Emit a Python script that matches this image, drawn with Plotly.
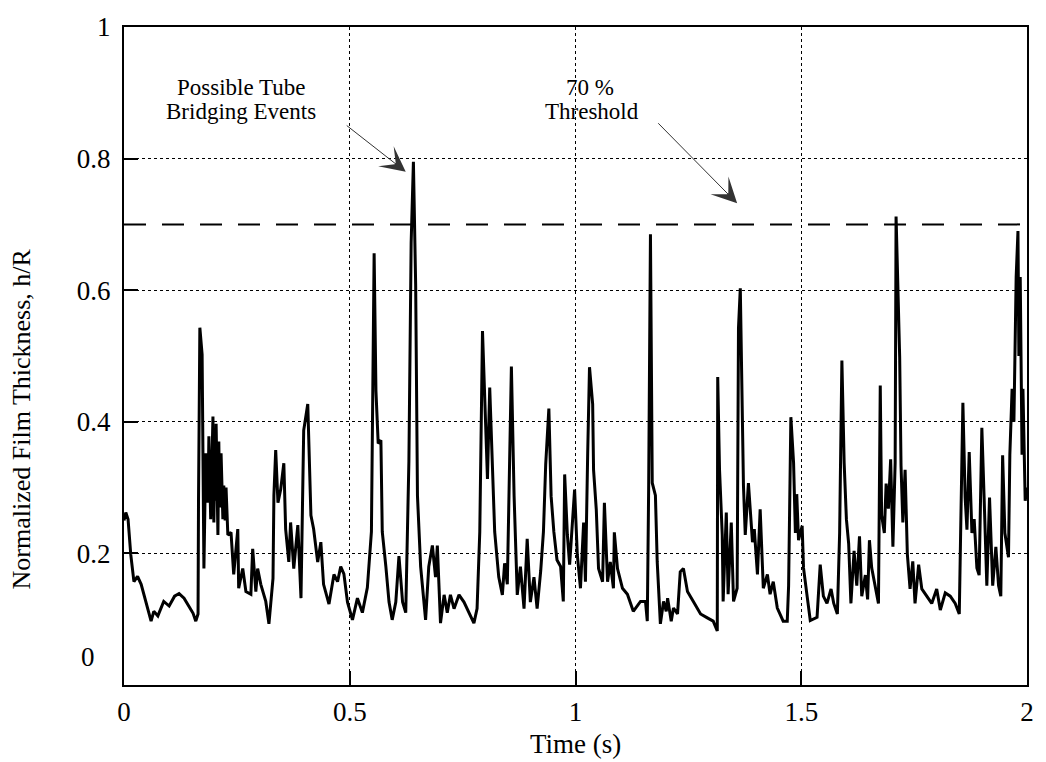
import plotly.graph_objects as go

# Time (s) and normalized film thickness h/R
t_vals = [
    0.000, 0.004, 0.009, 0.015, 0.022, 0.030, 0.038, 0.044, 0.060, 0.066, 0.075, 0.088, 0.100, 0.112,
    0.122, 0.133, 0.153, 0.159, 0.164, 0.165, 0.168, 0.173, 0.175, 0.177, 0.181, 0.186, 0.188, 0.192,
    0.197, 0.199, 0.201, 0.202, 0.204, 0.206, 0.208, 0.210, 0.212, 0.215, 0.217, 0.219, 0.221, 0.224,
    0.226, 0.230, 0.237, 0.243, 0.252, 0.254, 0.263, 0.270,
    0.281, 0.285, 0.292, 0.296, 0.303, 0.314, 0.321, 0.330, 0.332, 0.336, 0.341, 0.347, 0.354, 0.358,
    0.365, 0.369, 0.376, 0.385, 0.392, 0.398, 0.407, 0.414, 0.420, 0.429, 0.436, 0.442, 0.454, 0.465,
    0.473,
    0.480, 0.487, 0.495, 0.506, 0.517, 0.528, 0.539, 0.548, 0.554, 0.558, 0.563, 0.569, 0.572, 0.580,
    0.587, 0.594, 0.602, 0.609, 0.617, 0.624, 0.631, 0.636, 0.641, 0.646, 0.650, 0.657, 0.668, 0.675,
    0.683, 0.690, 0.694, 0.701, 0.709, 0.716, 0.723, 0.731, 0.742, 0.753, 0.764, 0.775, 0.782, 0.788,
    0.794, 0.799, 0.805, 0.810, 0.816, 0.821, 0.830, 0.838, 0.843, 0.849, 0.858, 0.864, 0.871, 0.878,
    0.886, 0.893, 0.900, 0.908, 0.915, 0.923, 0.929, 0.934, 0.941, 0.946, 0.952, 0.959, 0.967,
    0.973, 0.976, 0.982, 0.987, 0.993, 0.998, 1.004, 1.011, 1.018, 1.022, 1.027, 1.031, 1.038, 1.040,
    1.046, 1.051, 1.060, 1.064, 1.071, 1.077, 1.084, 1.086, 1.093, 1.104, 1.115, 1.128, 1.144, 1.155,
    1.159, 1.162, 1.166, 1.170, 1.177, 1.181, 1.188, 1.195, 1.201, 1.204, 1.212, 1.217, 1.226, 1.232,
    1.239, 1.248, 1.261, 1.277, 1.292, 1.305, 1.314, 1.315, 1.319, 1.325, 1.327, 1.334, 1.338, 1.345,
    1.350, 1.358, 1.361, 1.365, 1.372, 1.376, 1.383, 1.392, 1.396, 1.403, 1.409, 1.416, 1.425, 1.431,
    1.438, 1.447, 1.460, 1.469,
    1.472, 1.477, 1.483, 1.487, 1.490, 1.494, 1.502, 1.505, 1.513, 1.520, 1.535, 1.542, 1.549, 1.557,
    1.566, 1.572, 1.580, 1.585, 1.590, 1.595, 1.600, 1.605, 1.610, 1.617, 1.623, 1.629, 1.634, 1.642,
    1.647, 1.651, 1.656, 1.664, 1.671, 1.675, 1.678, 1.684, 1.688, 1.693, 1.698, 1.703, 1.708, 1.710,
    1.713, 1.718, 1.721, 1.725, 1.730, 1.735, 1.741, 1.747, 1.752, 1.760, 1.767, 1.778, 1.789, 1.800,
    1.808, 1.819, 1.830, 1.841, 1.850, 1.853, 1.858, 1.863, 1.867, 1.872, 1.878, 1.883, 1.889, 1.894,
    1.900, 1.905, 1.911, 1.917, 1.924, 1.931, 1.937, 1.942, 1.946, 1.951, 1.959,
    1.962, 1.967, 1.971, 1.976, 1.980, 1.982, 1.985, 1.989, 1.991, 1.996, 2.000,
]
h_vals = [
    0.250, 0.262, 0.252, 0.198, 0.157, 0.165, 0.153, 0.138, 0.097, 0.112, 0.105, 0.127, 0.120, 0.135,
    0.139, 0.132, 0.109, 0.097, 0.108, 0.277, 0.543, 0.502, 0.327, 0.177, 0.352, 0.277, 0.378, 0.252,
    0.408, 0.247, 0.340, 0.280, 0.397, 0.300, 0.228, 0.370, 0.270, 0.352, 0.280, 0.252, 0.303, 0.250,
    0.300, 0.228, 0.232, 0.168, 0.237, 0.147, 0.177, 0.142,
    0.138, 0.207, 0.142, 0.177, 0.153, 0.127, 0.093, 0.162, 0.288, 0.357, 0.277, 0.297, 0.337, 0.237,
    0.187, 0.247, 0.177, 0.243, 0.132, 0.387, 0.427, 0.258, 0.237, 0.187, 0.217, 0.153, 0.123, 0.168,
    0.157,
    0.180, 0.169, 0.126, 0.099, 0.132, 0.110, 0.148, 0.233, 0.656, 0.447, 0.367, 0.372, 0.233, 0.180,
    0.126, 0.099, 0.126, 0.196, 0.126, 0.110, 0.340, 0.672, 0.795, 0.607, 0.287, 0.180, 0.099, 0.180,
    0.212, 0.164, 0.212, 0.094, 0.137, 0.110, 0.137, 0.116, 0.137, 0.126, 0.110, 0.094, 0.116, 0.233,
    0.538, 0.420, 0.313, 0.452, 0.340, 0.233, 0.164, 0.137, 0.185, 0.153, 0.484, 0.287, 0.137, 0.180,
    0.116, 0.222, 0.126, 0.164, 0.116, 0.174, 0.233, 0.335, 0.420, 0.287, 0.233, 0.190, 0.180,
    0.127, 0.320, 0.228, 0.183, 0.237, 0.297, 0.198, 0.147, 0.247, 0.157, 0.352, 0.483, 0.427, 0.327,
    0.267, 0.177, 0.157, 0.277, 0.157, 0.187, 0.147, 0.232, 0.177, 0.147, 0.138, 0.112, 0.127, 0.127,
    0.097, 0.297, 0.685, 0.307, 0.288, 0.187, 0.093, 0.127, 0.112, 0.132, 0.097, 0.117, 0.108, 0.172,
    0.177, 0.142, 0.127, 0.108, 0.102, 0.097, 0.082, 0.468, 0.327, 0.228, 0.127, 0.262, 0.138, 0.247,
    0.127, 0.147, 0.543, 0.603, 0.303, 0.228, 0.307, 0.217, 0.237, 0.168, 0.267, 0.147, 0.168, 0.138,
    0.157, 0.117, 0.097, 0.097,
    0.151, 0.407, 0.338, 0.231, 0.290, 0.220, 0.242, 0.178, 0.135, 0.098, 0.103, 0.183, 0.135, 0.124,
    0.146, 0.124, 0.108, 0.231, 0.493, 0.338, 0.252, 0.215, 0.124, 0.204, 0.151, 0.226, 0.135, 0.167,
    0.130, 0.220, 0.178, 0.151, 0.124, 0.455, 0.258, 0.231, 0.306, 0.268, 0.343, 0.210, 0.338, 0.712,
    0.637, 0.498, 0.333, 0.247, 0.327, 0.199, 0.146, 0.188, 0.124, 0.183, 0.146, 0.135, 0.124, 0.146,
    0.114, 0.140, 0.135, 0.124, 0.108, 0.231, 0.429, 0.285, 0.236, 0.354, 0.231, 0.252, 0.178, 0.167,
    0.391, 0.285, 0.151, 0.285, 0.151, 0.210, 0.151, 0.135, 0.349, 0.231, 0.194,
    0.350, 0.450, 0.400, 0.620, 0.690, 0.500, 0.620, 0.350, 0.450, 0.280, 0.300,
]

threshold = 0.70
x_ticks = [0, 0.5, 1, 1.5, 2]
x_tick_text = ["0", "0.5", "1", "1.5", "2"]
y_ticks = [0, 0.2, 0.4, 0.6, 0.8, 1]
y_tick_text = ["", "0.2", "0.4", "0.6", "0.8", "1"]

FONT = "Liberation Serif, Times New Roman, serif"

fig = go.Figure()
fig.add_trace(go.Scatter(x=t_vals, y=h_vals, mode="lines",
                         line=dict(color="black", width=3), showlegend=False))
fig.add_trace(go.Scatter(x=[0, 2], y=[threshold, threshold], mode="lines",
                         line=dict(color="black", width=2, dash="22px,16px"), showlegend=False))

axis_common = dict(showline=True, linecolor="black", linewidth=2, mirror=True,
                   showgrid=True, gridcolor="black", gridwidth=1.3, griddash="dot",
                   ticks="inside", ticklen=14, tickwidth=2, tickcolor="black",
                   zeroline=False, tickfont=dict(family=FONT, size=27, color="black"))

fig.update_xaxes(range=[0, 2], tickvals=x_ticks, ticktext=x_tick_text,
                 ticklabelstandoff=2, **axis_common)
fig.update_yaxes(range=[0, 1], tickvals=y_ticks, ticktext=y_tick_text,
                 ticklabelstandoff=6, **axis_common)

# y-axis "0" label sits a little above the corner in the reference
fig.add_annotation(text="0", xref="paper", yref="paper", x=-0.04, y=0.042,
                   xanchor="center", yanchor="middle", showarrow=False,
                   font=dict(family=FONT, size=27, color="black"))

fig.add_annotation(text="Normalized Film Thickness, h/R", xref="paper", yref="paper",
                   x=-0.113, y=0.405, xanchor="center", yanchor="middle",
                   textangle=-90, showarrow=False,
                   font=dict(family=FONT, size=26, color="black"))
fig.add_annotation(text="Time (s)", xref="paper", yref="paper", x=0.5, y=-0.09,
                   xanchor="center", yanchor="middle",
                   showarrow=False, font=dict(family=FONT, size=27, color="black"))

fig.add_annotation(text="Possible Tube", xref="x", yref="y", x=0.26, y=0.908,
                   xanchor="center", yanchor="middle", showarrow=False,
                   font=dict(family=FONT, size=23, color="black"))
fig.add_annotation(text="Bridging Events", xref="x", yref="y", x=0.26, y=0.872,
                   xanchor="center", yanchor="middle", showarrow=False,
                   font=dict(family=FONT, size=23, color="black"))
fig.add_annotation(text="70 %", xref="x", yref="y", x=1.033, y=0.908,
                   xanchor="center", yanchor="middle", showarrow=False,
                   font=dict(family=FONT, size=23, color="black"))
fig.add_annotation(text="Threshold", xref="x", yref="y", x=1.037, y=0.872,
                   xanchor="center", yanchor="middle", showarrow=False,
                   font=dict(family=FONT, size=23, color="black"))

fig.add_annotation(text="", x=0.624, y=0.780, xref="x", yref="y",
                   ax=0.490, ay=0.852, axref="x", ayref="y",
                   showarrow=True, arrowhead=3, arrowsize=4.2, arrowwidth=1,
                   arrowcolor="#333")
fig.add_annotation(text="", x=1.358, y=0.732, xref="x", yref="y",
                   ax=1.180, ay=0.856, axref="x", ayref="y",
                   showarrow=True, arrowhead=3, arrowsize=4.2, arrowwidth=1,
                   arrowcolor="#333")

fig.update_layout(width=1046, height=762, margin=dict(l=124, r=19, t=18, b=77),
                  plot_bgcolor="white", paper_bgcolor="white",
                  font=dict(family=FONT, color="black"))

fig.write_html("out.html")
